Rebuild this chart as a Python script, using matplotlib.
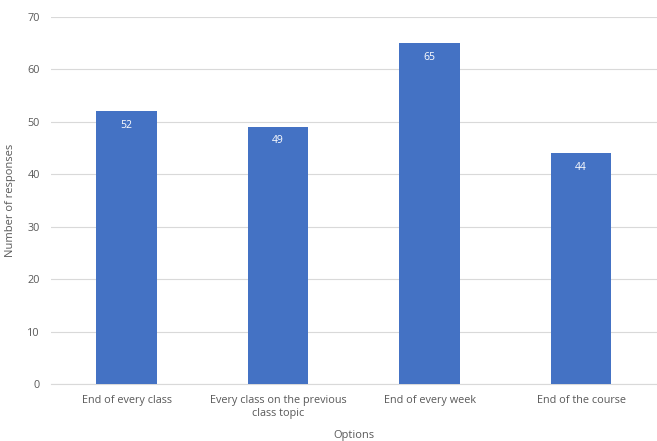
import matplotlib
matplotlib.use("Agg")
import matplotlib.pyplot as plt

options = [
    "End of every class",
    "Every class on the previous\nclass topic",
    "End of every week",
    "End of the course",
]
responses = [52, 49, 65, 44]
y_ticks = [0, 10, 20, 30, 40, 50, 60, 70]

BAR_COLOR = "#4472C4"
TEXT_COLOR = "#595959"
GRID_COLOR = "#D9D9D9"

plt.rcParams["font.family"] = ["Open Sans", "DejaVu Sans"]

fig = plt.figure(figsize=(6.57, 4.41), dpi=100)
ax = fig.add_axes([0.0776, 0.1293, 0.922, 0.8322])

x = range(len(options))
bars = ax.bar(x, responses, width=0.4, color=BAR_COLOR, zorder=3)

# value labels sit just inside the top of each bar
for bar, value in zip(bars, responses):
    ax.annotate(
        str(value),
        xy=(bar.get_x() + bar.get_width() / 2, bar.get_height()),
        xytext=(0, -6),
        textcoords="offset points",
        ha="center",
        va="top",
        color="white",
        fontsize=7.5,
    )

ax.set_xlim(-0.5, len(options) - 0.5)
ax.set_ylim(0, 70)
ax.set_yticks(y_ticks)
ax.set_xticks(list(x))
ax.set_xticklabels(options, fontsize=7.8, color=TEXT_COLOR, linespacing=1.25)
ax.tick_params(axis="y", labelsize=7.8, labelcolor=TEXT_COLOR, length=0, pad=8)
ax.tick_params(axis="x", length=0, pad=8)

ax.grid(axis="y", color=GRID_COLOR, linewidth=0.8, zorder=0)
for side in ["top", "right", "left"]:
    ax.spines[side].set_visible(False)
ax.spines["bottom"].set_color(GRID_COLOR)
ax.spines["bottom"].set_linewidth(0.8)

ax.set_ylabel("Number of responses", fontsize=8, color=TEXT_COLOR, labelpad=8)
ax.set_xlabel("Options", fontsize=8, color=TEXT_COLOR, labelpad=8)

fig.savefig("out.png", dpi=100)
